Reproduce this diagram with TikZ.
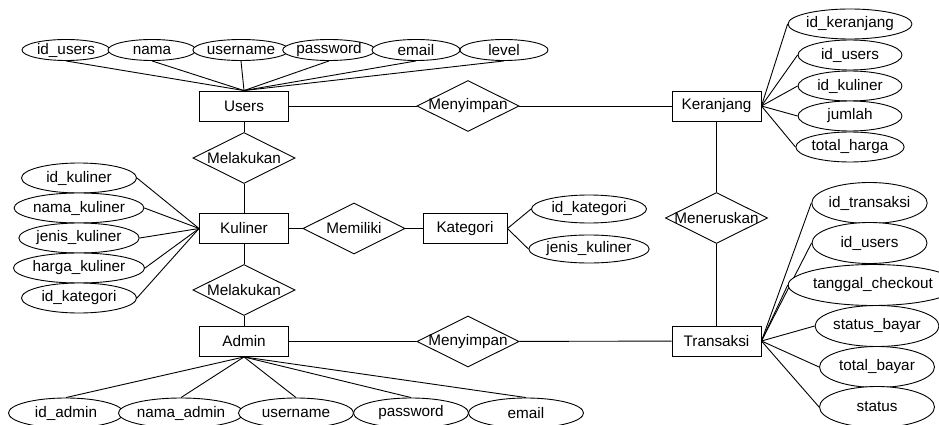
\documentclass[tikz,border=0pt]{standalone}
\usepackage{fontspec}
\setmainfont{Liberation Sans}
\usetikzlibrary{shapes.geometric}
\begin{document}
\begin{tikzpicture}[x=1pt, y=-1pt, line width=0.9pt,
    every node/.style={font=\fontsize{15.3}{18}\selectfont, inner sep=0pt},
    entity/.style={draw, fill=white, minimum width=89pt, minimum height=30pt},
    attr/.style={draw, ellipse, fill=white, minimum width=#1, minimum height=30pt},
    rel/.style={draw, diamond, aspect=2, fill=white, inner sep=-4pt, minimum width=102pt, minimum height=51pt}]
    \useasboundingbox (0,0) rectangle (939,425);
    % entities
    \node[entity] (users) at (244,106) {Users};
    \node[entity] (kuliner) at (244,228.5) {Kuliner};
    \node[entity] (admin) at (244,341.5) {Admin};
    \node[entity, minimum width=84pt] (kategori) at (465,228.5) {Kategori};
    \node[entity] (keranjang) at (716.5,106) {Keranjang};
    \node[entity] (transaksi) at (716.5,341) {Transaksi};
    % relations
    \node[rel] (melakukan1) at (244,158) {Melakukan};
    \node[rel] (melakukan2) at (244,290) {Melakukan};
    \node[rel] (menyimpan1) at (468,106) {Menyimpan};
    \node[rel] (menyimpan2) at (468,341.5) {Menyimpan};
    \node[rel] (memiliki) at (354,228.5) {Memiliki};
    \node[rel] (meneruskan) at (716.5,218) {Meneruskan};
    \draw (users) -- (menyimpan1) -- (keranjang);
    \draw (admin) -- (menyimpan2) -- (transaksi);
    \draw (users) -- (melakukan1) -- (kuliner) -- (melakukan2) -- (admin);
    \draw (kuliner) -- (memiliki) -- (kategori);
    \draw (keranjang) -- (meneruskan) -- (transaksi);
    % attributes
    \foreach \t/\x [count=\i] in {id\_users/66, nama/152, username/241, password/329, email/416, level/504} {
        \node[attr=88pt, minimum height=21pt] (u\i) at (\x,50) {\t};
        \draw (u\i.south) -- (users.north);
    }
    \foreach \t/\y [count=\i] in {id\_kuliner/178, nama\_kuliner/208, jenis\_kuliner/238, harga\_kuliner/268, id\_kategori/298} {
        \node[attr=115pt] (k\i) at (79,\y) {\t};
        \draw (k\i.east) -- (kuliner.west);
    }
    \foreach \t/\y [count=\i] in {id\_kategori/209, jenis\_kuliner/249} {
        \node[attr=115pt, minimum height=28pt] (c\i) at (589,\y) {\t};
        \draw (kategori.east) -- (c\i.west);
    }
    \foreach \t/\y [count=\i] in {id\_keranjang/24, id\_users/55, id\_kuliner/86, jumlah/116, total\_harga/147} {
        \node[attr=104pt] (r\i) at (850,\y) {\t};
        \draw (keranjang.east) -- (r\i.west);
    }
    \foreach \t/\x/\y [count=\i] in {id\_transaksi/869.5/203, id\_users/869.5/243, tanggal\_checkout/873/285,
        status\_bayar/877/326, total\_bayar/877/367, status/877/407} {
        \node[attr=115pt, minimum height=41pt] (t\i) at (\x,\y) {\t};
        \draw (transaksi.east) -- (t\i.west);
    }
    \foreach \t/\x [count=\i] in {id\_admin/66, nama\_admin/181, username/296, password/411, email/526} {
        \node[attr=115pt] (a\i) at (\x,413) {\t};
        \draw (admin.south) -- (a\i.north);
    }
\end{tikzpicture}
\end{document}
